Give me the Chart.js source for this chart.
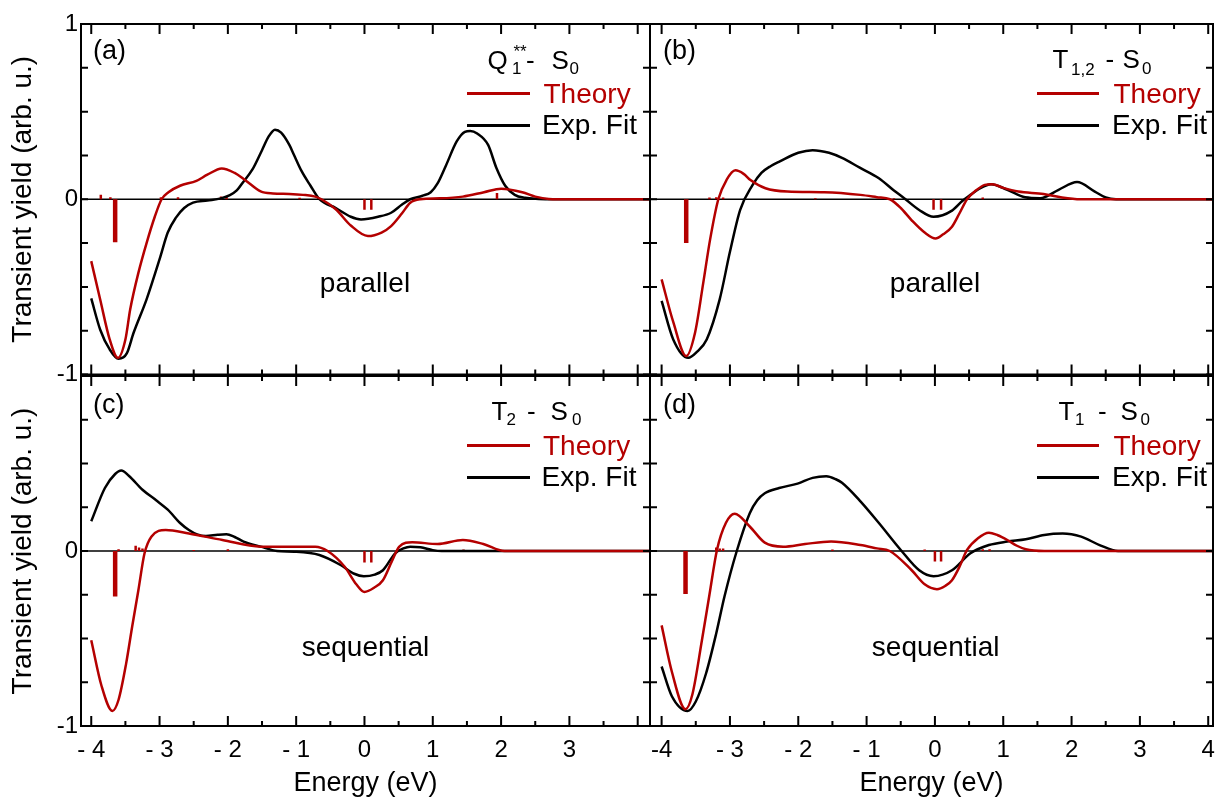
<!DOCTYPE html>
<html><head><meta charset="utf-8">
<script src="https://cdn.jsdelivr.net/npm/chart.js@4.4.1/dist/chart.umd.min.js"></script>
<style>
html,body{margin:0;padding:0;background:#fff;width:1216px;height:798px;overflow:hidden;position:relative;font-family:"Liberation Sans",Arial,sans-serif;}
canvas{position:absolute;left:0;top:0;}
.t{position:absolute;white-space:pre;line-height:1;}
.sw{position:absolute;height:3px;}
</style></head><body>
<canvas id="ca" width="1300" height="900"></canvas>
<canvas id="cb" width="1300" height="900"></canvas>
<canvas id="cc" width="1300" height="900"></canvas>
<canvas id="cd" width="1300" height="900"></canvas>
<script>
// ---------------- data ----------------
const energyTicks = [-4,-3,-2,-1,0,1,2,3,4];
const leftEnergyLabels = ['- 4','- 3','- 2','- 1','0','1','2','3',''];
const rightEnergyLabels = ['-4','- 3','- 2','- 1','0','1','2','3','4'];
const minorEnergyTicks = [-4,-3.5,-3,-2.5,-2,-1.5,-1,-0.5,0,0.5,1,1.5,2,2.5,3,3.5,4];
const yTicksTop = [-1,0,1];
const yLabelsTop = ['-1','0','1'];
const yTicksBottom = [-1,0];
const yLabelsBottom = ['-1','0'];
const yMinorTicks = [-1,-0.75,-0.5,-0.25,0,0.25,0.5,0.75,1];

// (a) Q1** - S0, parallel
const aTheoryE = [-4.0,-3.87,-3.73,-3.61,-3.5,-3.43,-3.31,-3.19,-3.07,-2.97,-2.87,-2.7,-2.46,-2.3,-2.09,-1.9,-1.75,-1.52,-1.34,-1.1,-0.9,-0.72,-0.63,-0.42,-0.2,0.05,0.25,0.39,0.55,0.67,0.82,1.1,1.44,1.75,2.0,2.31,2.5,2.7,3.0,4.2];
const aTheoryV = [-0.353,-0.571,-0.80,-0.905,-0.80,-0.629,-0.42,-0.25,-0.1,0,0.04,0.077,0.105,0.14,0.176,0.15,0.11,0.045,0.033,0.03,0.025,0.015,0,-0.057,-0.15,-0.21,-0.19,-0.153,-0.08,-0.02,0,0.005,0.015,0.04,0.06,0.04,0.015,0.002,0,0];
const aFitE = [-4.0,-3.87,-3.73,-3.6,-3.48,-3.38,-3.19,-2.99,-2.88,-2.76,-2.64,-2.51,-2.3,-2.1,-1.97,-1.87,-1.78,-1.64,-1.5,-1.4,-1.31,-1.22,-1.1,-1.04,-0.92,-0.79,-0.66,-0.42,-0.2,-0.05,0.2,0.39,0.55,0.67,0.85,0.97,1.07,1.19,1.35,1.47,1.55,1.65,1.81,1.93,2.06,2.2,2.35,2.55,2.75,4.2];
const aFitV = [-0.566,-0.743,-0.857,-0.91,-0.88,-0.762,-0.571,-0.33,-0.19,-0.105,-0.05,-0.019,-0.007,0.005,0.023,0.05,0.096,0.17,0.28,0.36,0.397,0.38,0.31,0.26,0.16,0.077,0,-0.05,-0.1,-0.115,-0.1,-0.077,-0.03,0,0.02,0.04,0.09,0.19,0.33,0.385,0.39,0.375,0.31,0.18,0.077,0.025,0.008,0.002,0,0];
const aBigStickE = [-3.65];
const aBigStickV = [-0.245];
const aStickE = [-3.86,-3.72,-2.98,-2.73,-2.1,-2.02,-0.95,0.0,0.1,1.94];
const aStickV = [0.025,0.012,0.012,0.012,0.015,0.015,0.008,-0.06,-0.06,0.035];

// (b) T1,2 - S0, parallel
const bTheoryE = [-4.0,-3.83,-3.64,-3.51,-3.39,-3.29,-3.17,-3.05,-2.92,-2.8,-2.7,-2.48,-2.16,-1.62,-1.09,-0.85,-0.66,-0.5,-0.34,-0.15,0.01,0.12,0.25,0.36,0.47,0.6,0.73,0.84,1.0,1.22,1.59,1.86,2.13,4.2];
const bTheoryV = [-0.457,-0.70,-0.895,-0.76,-0.476,-0.229,0,0.11,0.165,0.145,0.11,0.063,0.044,0.04,0.025,0.012,0,-0.05,-0.12,-0.19,-0.224,-0.2,-0.157,-0.08,0,0.05,0.082,0.086,0.065,0.044,0.03,0.01,0,0];
const bFitE = [-4.0,-3.83,-3.61,-3.48,-3.34,-3.15,-3.0,-2.85,-2.67,-2.54,-2.4,-2.27,-2.0,-1.79,-1.55,-1.36,-1.1,-0.82,-0.6,-0.45,-0.23,-0.02,0.25,0.4,0.52,0.65,0.82,1.06,1.32,1.54,1.81,2.08,2.34,2.5,2.65,4.2];
const bFitV = [-0.58,-0.80,-0.905,-0.87,-0.80,-0.571,-0.30,-0.06,0.08,0.15,0.19,0.216,0.265,0.28,0.265,0.236,0.18,0.12,0.05,0.006,-0.061,-0.10,-0.065,-0.01,0.025,0.06,0.086,0.054,0.011,0.006,0.054,0.098,0.044,0.01,0,0];
const bBigStickE = [-3.64];
const bBigStickV = [-0.25];
const bStickE = [-3.3,-3.2,-3.1,-1.75,-0.6,-0.02,0.09,0.7];
const bStickV = [0.01,0.012,0.01,0.006,0.006,-0.06,-0.06,0.01];

// (c) T2 - S0, sequential
const cTheoryE = [-4.0,-3.85,-3.69,-3.6,-3.49,-3.4,-3.31,-3.22,-3.12,-2.91,-2.57,-2.08,-1.52,-1.03,-0.72,-0.54,-0.29,-0.12,0.0,0.14,0.27,0.4,0.51,0.7,1.07,1.44,1.74,2.05,4.2];
const cTheoryV = [-0.51,-0.77,-0.914,-0.85,-0.645,-0.43,-0.224,-0.013,0.082,0.12,0.10,0.063,0.025,0.025,0.025,0,-0.09,-0.19,-0.234,-0.21,-0.167,-0.06,0.025,0.05,0.04,0.063,0.04,0,0];
const cFitE = [-4.0,-3.8,-3.65,-3.56,-3.45,-3.25,-3.05,-2.88,-2.7,-2.57,-2.45,-2.32,-2.15,-2.02,-1.9,-1.77,-1.52,-1.28,-1.03,-0.66,-0.35,-0.15,-0.01,0.15,0.27,0.45,0.57,0.67,0.82,1.0,1.13,4.2];
const cFitV = [0.17,0.36,0.44,0.46,0.43,0.35,0.29,0.236,0.16,0.12,0.095,0.086,0.093,0.096,0.08,0.054,0.025,0,-0.004,-0.023,-0.08,-0.13,-0.144,-0.135,-0.11,-0.013,0.015,0.025,0.021,0.005,0,0];
const cBigStickE = [-3.65];
const cBigStickV = [-0.26];
const cStickE = [-3.6,-3.35,-3.3,-3.25,-2.5,-2.0,0.0,0.1,1.45];
const cStickV = [0.01,0.03,0.02,0.015,0.006,0.01,-0.065,-0.065,0.008];

// (d) T1 - S0, sequential
const dTheoryE = [-4.0,-3.85,-3.65,-3.55,-3.41,-3.3,-3.19,-3.06,-2.93,-2.71,-2.49,-2.22,-1.9,-1.52,-1.09,-0.85,-0.66,-0.34,-0.15,0.03,0.15,0.25,0.36,0.47,0.63,0.79,0.92,1.06,1.2,1.33,1.6,4.2];
const dTheoryV = [-0.425,-0.69,-0.904,-0.82,-0.51,-0.25,0.006,0.16,0.213,0.14,0.048,0.025,0.04,0.054,0.034,0.015,0,-0.11,-0.19,-0.218,-0.2,-0.167,-0.09,0.006,0.073,0.105,0.09,0.063,0.03,0.01,0,0];
const dFitE = [-4.0,-3.85,-3.62,-3.5,-3.35,-3.2,-3.08,-2.9,-2.71,-2.6,-2.49,-2.28,-2.01,-1.79,-1.59,-1.45,-1.36,-1.09,-0.82,-0.5,-0.23,-0.02,0.25,0.52,0.79,1.06,1.33,1.6,1.87,2.14,2.41,2.68,4.2];
const dFitV = [-0.66,-0.83,-0.914,-0.86,-0.70,-0.47,-0.26,0,0.216,0.29,0.33,0.36,0.385,0.418,0.427,0.41,0.39,0.284,0.16,0.006,-0.11,-0.144,-0.11,-0.013,0.034,0.054,0.067,0.092,0.10,0.082,0.034,0,0];
const dBigStickE = [-3.65];
const dBigStickV = [-0.245];
const dStickE = [-3.2,-3.15,-3.1,-1.5,-0.15,0.0,0.09,0.7,0.8];
const dStickV = [0.02,0.015,0.015,0.008,0.008,-0.06,-0.06,0.01,0.01];

// ---------------- styling ----------------
const RED = '#b40000';
const FONT = '"Liberation Sans", Arial, sans-serif';

function pts(E, V){ return E.map((e,i)=>({x:e, y:V[i]})); }
function sticks(E, V){
  const out = [];
  E.forEach((e,i)=>{ out.push({x:e,y:0}); out.push({x:e,y:V[i]}); out.push({x:e,y:null}); });
  return out;
}

const framePlugin = {
  id:'frame',
  beforeDatasetsDraw(chart){
    const {ctx, chartArea:a, scales:{x,y}} = chart;
    ctx.save();
    ctx.strokeStyle = '#000'; ctx.lineWidth = 1.5;
    const y0 = y.getPixelForValue(0);
    ctx.beginPath(); ctx.moveTo(a.left, y0); ctx.lineTo(a.right, y0); ctx.stroke();
    ctx.restore();
  },
  afterDatasetsDraw(chart){
    const {ctx, chartArea:a, scales:{x,y}} = chart;
    ctx.save();
    ctx.strokeStyle = '#000'; ctx.lineWidth = 2;
    ctx.beginPath();
    minorEnergyTicks.forEach(v=>{
      if (v < x.min || v > x.max) return;
      const px = x.getPixelForValue(v);
      const len = Number.isInteger(v) ? 10 : 5;
      ctx.moveTo(px, a.bottom); ctx.lineTo(px, a.bottom - len);
      ctx.moveTo(px, a.top); ctx.lineTo(px, a.top + len);
    });
    yMinorTicks.forEach(v=>{
      const py = y.getPixelForValue(v);
      ctx.moveTo(a.left, py); ctx.lineTo(a.left + 7, py);
      ctx.moveTo(a.right, py); ctx.lineTo(a.right - 7, py);
    });
    ctx.stroke();
    ctx.strokeRect(a.left, a.top, a.right - a.left, a.bottom - a.top);
    ctx.restore();
  }
};

function makeChart(id, p){
  const datasets = [
    {data:pts(p.tE,p.tV), borderColor:RED, borderWidth:2.5, cubicInterpolationMode:'monotone'},
    {data:pts(p.fE,p.fV), borderColor:'#000', borderWidth:2.5, cubicInterpolationMode:'monotone'},
    {data:sticks(p.bsE,p.bsV), borderColor:RED, borderWidth:4.5, borderCapStyle:'butt', spanGaps:false},
    {data:sticks(p.sE,p.sV), borderColor:RED, borderWidth:2.5, borderCapStyle:'butt', spanGaps:false}
  ];
  const xScale = {
    type:'linear', min:p.xmin, max:p.xmax, display:p.xShow,
    grid:{display:false, drawTicks:false}, border:{display:false},
    afterBuildTicks:s=>{ s.ticks = energyTicks.map(v=>({value:v})); },
    afterFit:s=>{ s.height = p.xShow ? 74 : 0; },
    ticks:{autoSkip:false, maxRotation:0, minRotation:0, padding:10, color:'#000',
      font:{family:FONT, size:24}, callback:(v,i)=>p.xLabels ? p.xLabels[i] : ''},
    title:{display:true, text:'Energy (eV)', color:'#000', font:{family:FONT, size:27}, padding:0}
  };
  const yScale = {
    type:'linear', min:-1, max:1, display:p.yShow,
    grid:{display:false, drawTicks:false}, border:{display:false},
    afterBuildTicks:s=>{ s.ticks = (p.yTicks||[]).map(v=>({value:v})); },
    afterFit:s=>{ s.width = p.yShow ? 81 : 0; },
    ticks:{autoSkip:false, padding:3, color:'#000', font:{family:FONT, size:24},
      callback:(v,i)=>p.yLabels ? p.yLabels[i] : ''},
    title:{display:true, text:'Transient yield (arb. u.)', color:'#000', font:{family:FONT, size:28}, padding:{top:6.5,bottom:0}}
  };
  return new Chart(document.getElementById(id), {
    type:'line',
    data:{datasets},
    options:{
      responsive:false, animation:false, devicePixelRatio:1,
      layout:{padding:p.pad},
      plugins:{legend:{display:false}, tooltip:{enabled:false}},
      elements:{point:{radius:0}, line:{tension:0}},
      scales:{x:xScale, y:yScale}
    },
    plugins:[framePlugin]
  });
}

makeChart('ca', {tE:aTheoryE,tV:aTheoryV,fE:aFitE,fV:aFitV,bsE:aBigStickE,bsV:aBigStickV,sE:aStickE,sV:aStickV,
  xmin:-4.15,xmax:4.18,xShow:false,yShow:true,yTicks:yTicksTop,yLabels:yLabelsTop,
  pad:{left:0,top:24,right:650,bottom:525.5}});
makeChart('cb', {tE:bTheoryE,tV:bTheoryV,fE:bFitE,fV:bFitV,bsE:bBigStickE,bsV:bBigStickV,sE:bStickE,sV:bStickV,
  xmin:-4.17,xmax:4.07,xShow:false,yShow:false,
  pad:{left:650,top:24,right:87,bottom:525.5}});
makeChart('cc', {tE:cTheoryE,tV:cTheoryV,fE:cFitE,fV:cFitV,bsE:cBigStickE,bsV:cBigStickV,sE:cStickE,sV:cStickV,
  xmin:-4.15,xmax:4.18,xShow:true,xLabels:leftEnergyLabels,yShow:true,yTicks:yTicksBottom,yLabels:yLabelsBottom,
  pad:{left:0,top:376,right:650,bottom:100}});
makeChart('cd', {tE:dTheoryE,tV:dTheoryV,fE:dFitE,fV:dFitV,bsE:dBigStickE,bsV:dBigStickV,sE:dStickE,sV:dStickV,
  xmin:-4.17,xmax:4.07,xShow:true,xLabels:rightEnergyLabels,yShow:false,
  pad:{left:650,top:376,right:87,bottom:100}});

// ---------------- annotations (real HTML text) ----------------
function place(text, left, base, size, color, center){
  const d = document.createElement('div');
  d.className = 't';
  d.textContent = text;
  d.style.fontSize = size + 'px';
  d.style.color = color || '#000';
  d.style.top = (base - 0.8465*size) + 'px';
  if (center){ d.style.left = (left - 200) + 'px'; d.style.width = '400px'; d.style.textAlign = 'center'; }
  else d.style.left = left + 'px';
  document.body.appendChild(d);
}
function swatch(x1, x2, y, color){
  const d = document.createElement('div');
  d.className = 'sw';
  d.style.left = x1 + 'px'; d.style.width = (x2 - x1) + 'px';
  d.style.top = (y - 1.5) + 'px'; d.style.background = color;
  document.body.appendChild(d);
}
// panel letters
place('(a)', 93, 60, 27); place('(b)', 663, 60, 27);
place('(c)', 93, 414, 27); place('(d)', 663, 414, 27);
// panel headers
place('Q', 487.5, 69.3, 26); place('1', 512, 74.5, 17); place('**', 513.5, 57, 17);
place('-', 526, 69.3, 26); place('S', 551.5, 69.3, 26); place('0', 569.5, 74.5, 17);
place('T', 1052.5, 68.3, 26); place('1,2', 1071, 75, 17);
place('-', 1105.5, 68.3, 26); place('S', 1122.5, 68.3, 26); place('0', 1142, 74.5, 17);
place('T', 491.5, 420, 26); place('2', 506.5, 425.5, 17);
place('-', 527, 420, 26); place('S', 550.5, 420, 26); place('0', 572, 425.5, 17);
place('T', 1058.5, 420, 26); place('1', 1075, 425.5, 17);
place('-', 1098, 420, 26); place('S', 1120.5, 420, 26); place('0', 1140.5, 425.5, 17);
// legends
[[467,530,543.5,0],[1037,1099,1113.5,0],[467,530,543,352],[1037,1099,1113.5,352]].forEach(([x1,x2,tx,dy])=>{
  swatch(x1, x2, 93.8+dy, RED);
  place('Theory', tx, 104+dy, 28, RED);
  swatch(x1, x2, 125.3+dy, '#000');
  place('Exp. Fit', tx-1.5, 135+dy, 28, '#000');
});
// scheme labels
place('parallel', 365, 293, 28, '#000', true);
place('parallel', 935, 293, 28, '#000', true);
place('sequential', 365.5, 656.7, 28, '#000', true);
place('sequential', 935.7, 656.7, 28, '#000', true);
</script>
</body></html>
